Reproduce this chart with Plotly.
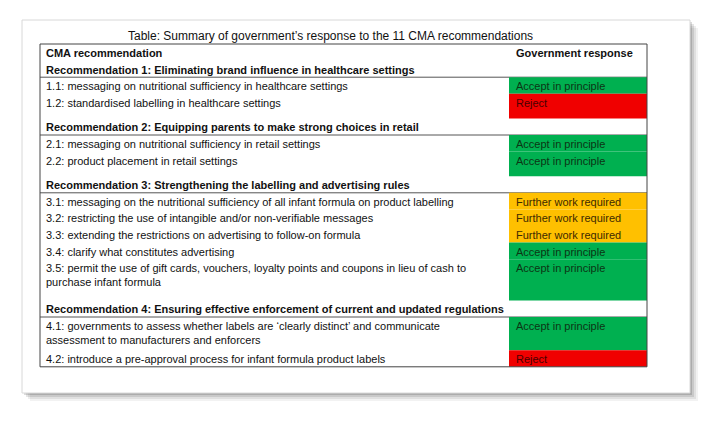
import plotly.graph_objects as go

title = "Table: Summary of government\u2019s response to the 11 CMA recommendations"
col_headers = ["CMA recommendation", "Government response"]

groups = [
    "Recommendation 1: Eliminating brand influence in healthcare settings",
    "Recommendation 2: Equipping parents to make strong choices in retail",
    "Recommendation 3: Strengthening the labelling and advertising rules",
    "Recommendation 4: Ensuring effective enforcement of current and updated regulations",
]
items = [
    [("1.1: messaging on nutritional sufficiency in healthcare settings", "Accept in principle"),
     ("1.2: standardised labelling in healthcare settings", "Reject")],
    [("2.1: messaging on nutritional sufficiency in retail settings", "Accept in principle"),
     ("2.2: product placement in retail settings", "Accept in principle")],
    [("3.1: messaging on the nutritional sufficiency of all infant formula on product labelling", "Further work required"),
     ("3.2: restricting the use of intangible and/or non-verifiable messages", "Further work required"),
     ("3.3: extending the restrictions on advertising to follow-on formula", "Further work required"),
     ("3.4: clarify what constitutes advertising", "Accept in principle"),
     ("3.5: permit the use of gift cards, vouchers, loyalty points and coupons in lieu of cash to<br>purchase infant formula", "Accept in principle")],
    [("4.1: governments to assess whether labels are \u2018clearly distinct\u2019 and communicate<br>assessment to manufacturers and enforcers", "Accept in principle"),
     ("4.2: introduce a pre-approval process for infant formula product labels", "Reject")],
]

fill = {"Accept in principle": "#00B050", "Reject": "#F00000", "Further work required": "#FFC000"}
ink = {"Accept in principle": "#0c3514", "Reject": "#4a0000", "Further work required": "#3d2a00"}

W, H = 710, 421
OFF = 8                      # page body margin
L, R, D = 40, 647, 509       # table left/right, response column divider
LINE = 16.6
GAP = 8
FONT = "Liberation Sans"
FS = 11

shapes, ann = [], []

# card with soft shadow
for i, a in enumerate([0.05, 0.07, 0.1, 0.14]):
    o = 8 - i * 2
    shapes.append(dict(type="rect", x0=22 + o, x1=690 + o, y0=20 + o, y1=393 + o,
                       fillcolor=f"rgba(0,0,0,{a})", line_width=0, layer="below"))
shapes.append(dict(type="rect", x0=22, x1=690, y0=20, y1=393, fillcolor="white",
                   line=dict(color="#d8d8d8", width=1), layer="below"))

ann.append(dict(x=330, y=36, text=title, showarrow=False, font=dict(size=12, family=FONT, color="#111")))

def txt(x, y, s, bold=False, color="#111"):
    ann.append(dict(x=x, y=y, text=f"<b>{s}</b>" if bold else s, showarrow=False, xanchor="left",
                    yanchor="top", align="left", font=dict(size=FS, family=FONT, color=color)))

top = 44
y = top
txt(L + 4, y + 1, col_headers[0], True)
txt(D + 5, y + 1, col_headers[1], True)
y += LINE
for gi, (g, rows) in enumerate(zip(groups, items)):
    txt(L + 4, y + 1, g, True)
    y += LINE
    shapes.append(dict(type="line", x0=L, x1=R, y0=y, y1=y, line=dict(color="#555", width=1)))
    for ri, (t, resp) in enumerate(rows):
        n = t.count("<br>") + 1
        h = n * LINE + (GAP if ri == len(rows) - 1 and gi < len(groups) - 1 else 0)
        shapes.append(dict(type="rect", x0=D, x1=R, y0=y, y1=y + h, fillcolor=fill[resp], line_width=0))
        txt(L + 4, y + 1, t)
        txt(D + 5, y + 1, resp, color=ink[resp])
        y += h
shapes.append(dict(type="rect", x0=L, x1=R, y0=top, y1=y, line=dict(color="#444", width=1)))

fig = go.Figure(go.Scatter(x=[0, W], y=[0, H], mode="markers", marker=dict(opacity=0), hoverinfo="skip"))
fig.update_layout(width=W, height=H, margin=dict(l=0, r=0, t=0, b=0), showlegend=False,
                  paper_bgcolor="white", plot_bgcolor="white", shapes=shapes, annotations=ann)
fig.update_xaxes(range=[OFF, W + OFF], visible=False, fixedrange=True)
fig.update_yaxes(range=[H + OFF, OFF], visible=False, fixedrange=True)
fig.write_html("out.html")
